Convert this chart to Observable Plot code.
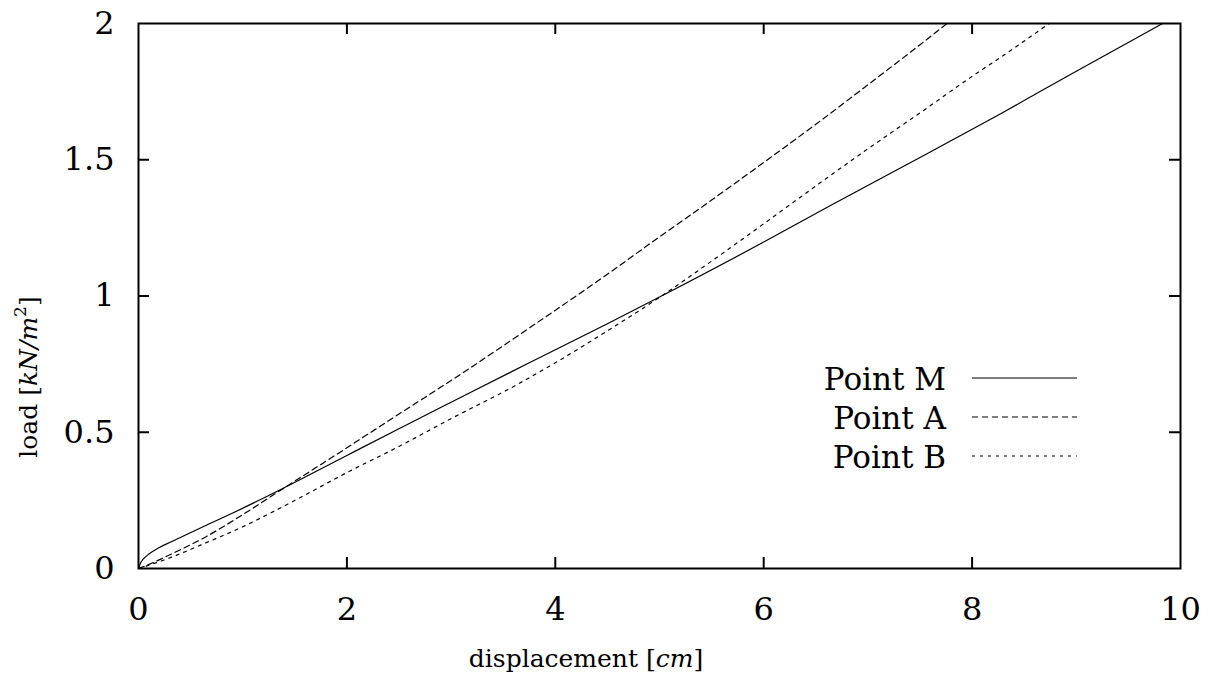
<!DOCTYPE html>
<html><head><meta charset="utf-8">
<script src="https://cdn.jsdelivr.net/npm/d3@7"></script>
<script src="https://cdn.jsdelivr.net/npm/@observablehq/plot@0.6"></script>
<style>html,body{margin:0;padding:0;background:#fff;} #chart{width:1208px;height:679px;}
#chart svg, #chart svg text {font-family: "DejaVu Serif", serif !important;}</style>
</head><body><div id="chart"></div>
<script>
// ---- data ----
const seriesNames = ["Point M", "Point A", "Point B"];
const mX = [0, 0.02, 0.05, 0.1, 0.2, 0.32, 0.64, 0.96, 1.375, 2.0, 2.5, 3.0, 3.76, 4.5, 5.0, 6.0, 6.61, 7.5, 8.27, 9.0, 9.83];
const mY = [0, 0.02, 0.036, 0.053, 0.077, 0.099, 0.157, 0.214, 0.292, 0.415, 0.513, 0.61, 0.757, 0.898, 0.996, 1.198, 1.326, 1.508, 1.668, 1.825, 2.0];
const aX = [0, 0.1, 0.32, 0.64, 0.96, 1.375, 2.0, 2.5, 3.0, 3.76, 4.5, 5.0, 5.5, 6.0, 6.5, 7.0, 7.5, 7.76];
const aY = [0, 0.015, 0.054, 0.115, 0.188, 0.29, 0.443, 0.567, 0.69, 0.885, 1.08, 1.217, 1.352, 1.49, 1.63, 1.775, 1.922, 2.0];
const bX = [0, 0.1, 0.32, 0.64, 0.96, 1.3, 1.6, 2.0, 2.5, 3.0, 3.6, 4.0, 4.5, 5.0, 5.5, 6.0, 6.61, 7.0, 7.5, 8.0, 8.27, 8.74];
const bY = [0, 0.012, 0.042, 0.093, 0.146, 0.21, 0.27, 0.352, 0.448, 0.55, 0.668, 0.755, 0.872, 0.995, 1.128, 1.265, 1.434, 1.54, 1.672, 1.806, 1.875, 2.0];
const xTicks = [0, 2, 4, 6, 8, 10];
const xTickLabels = ["0", "2", "4", "6", "8", "10"];
const yTicks = [0, 0.5, 1, 1.5, 2];
const yTickLabels = ["0", "0.5", "1", "1.5", "2"];

// ---- build table ----
const seriesXs = [mX, aX, bX];
const seriesYs = [mY, aY, bY];
const data = [];
seriesNames.forEach((name, s) => {
  seriesXs[s].forEach((x, i) => data.push({series: name, x, y: seriesYs[s][i]}));
});
const dashes = {"Point M": null, "Point A": "6,4", "Point B": "3,5"};

// ---- layout ----
const W = 1208, H = 679;
const mL = 138, mR = 28, mT = 23, mB = 111;
const innerW = W - mL - mR, innerH = H - mT - mB;
const tick = 11;
const innerXTicks = xTicks.filter(d => d > 0 && d < 10);
const innerYTicks = yTicks.filter(d => d > 0 && d < 2);
const FONT = "DejaVu Serif";

const plot = Plot.plot({
  width: W, height: H,
  marginLeft: mL, marginRight: mR, marginTop: mT, marginBottom: mB,
  x: {domain: [0, 10]},
  y: {domain: [0, 2]},
  style: {fontSize: "32px", background: "#fff", color: "#000"},
  marks: [
    ...seriesNames.map(name => Plot.line(data.filter(d => d.series === name), {
      x: "x", y: "y", stroke: "#000", strokeWidth: 1.2,
      strokeDasharray: dashes[name], curve: "monotone-x"
    })),
    Plot.tickX(innerXTicks, {x: d => d, insetTop: innerH - tick, stroke: "#000", strokeWidth: 2}),
    Plot.tickX(innerXTicks, {x: d => d, insetBottom: innerH - tick, stroke: "#000", strokeWidth: 2}),
    Plot.tickY(innerYTicks, {y: d => d, insetRight: innerW - tick, stroke: "#000", strokeWidth: 2}),
    Plot.tickY(innerYTicks, {y: d => d, insetLeft: innerW - tick, stroke: "#000", strokeWidth: 2}),
    Plot.frame({stroke: "#000", strokeWidth: 2}),
    Plot.axisX(xTicks, {tickSize: 0, tickPadding: 29, label: null, fontFamily: FONT,
      tickFormat: d => xTickLabels[xTicks.indexOf(d)]}),
    Plot.axisY(yTicks, {tickSize: 0, tickPadding: 24, label: null, fontFamily: FONT,
      tickFormat: d => yTickLabels[yTicks.indexOf(d)]})
  ]
});
document.getElementById("chart").appendChild(plot);

// ---- axis titles and legend ----
const svg = d3.select(plot).attr("font-family", FONT);
const xt = svg.append("text").attr("x", 586).attr("y", 667).attr("font-family", FONT)
  .attr("text-anchor", "middle").attr("font-size", 25).attr("fill", "#000");
xt.append("tspan").text("displacement [");
xt.append("tspan").attr("font-style", "italic").text("cm");
xt.append("tspan").text("]");

const yt = svg.append("text").attr("transform", "translate(37,377) rotate(-90)").attr("font-family", FONT)
  .attr("text-anchor", "middle").attr("font-size", 25).attr("fill", "#000");
yt.append("tspan").text("load [");
yt.append("tspan").attr("font-style", "italic").text("kN/m");
yt.append("tspan").attr("font-size", 17).attr("dy", -11).text("2");
yt.append("tspan").attr("dy", 11).text("]");

const legendRows = [378, 417, 456];
const lg = svg.append("g").attr("font-family", FONT);
seriesNames.forEach((name, i) => {
  lg.append("text").attr("x", 946).attr("y", legendRows[i] + 12)
    .attr("text-anchor", "end").attr("font-size", 31).attr("fill", "#000").text(name);
  const ln = lg.append("line").attr("x1", 972).attr("x2", 1077)
    .attr("y1", legendRows[i]).attr("y2", legendRows[i])
    .attr("stroke", "#000").attr("stroke-width", 1.2);
  if (dashes[name]) ln.attr("stroke-dasharray", dashes[name]);
});
</script>
</body></html>
